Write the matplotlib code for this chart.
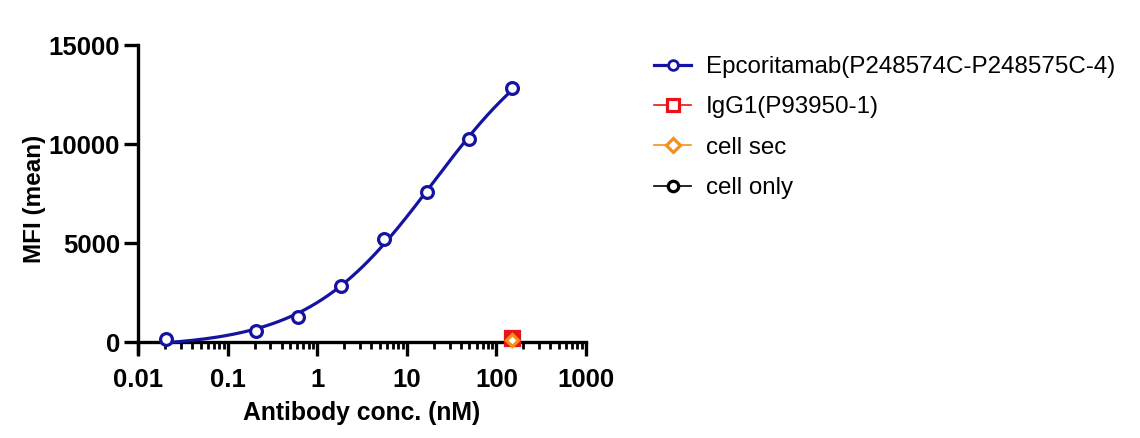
import numpy as np
import matplotlib
matplotlib.use("Agg")
import matplotlib.pyplot as plt
from matplotlib.ticker import LogLocator, NullFormatter, FixedLocator

plt.rcParams['font.family'] = ['Liberation Sans', 'DejaVu Sans']

# ---- data ----
epc_conc = [0.0206, 0.206, 0.617, 1.85, 5.56, 16.7, 50.0, 150.0]
epc_mfi = [150, 570, 1250, 2840, 5220, 7590, 10230, 12820]
igg_conc = [150.0]
igg_mfi = [200]
sec_conc = [150.0]
sec_mfi = [110]
only_conc = [150.0]
only_mfi = [60]

series_names = ["Epcoritamab(P248574C-P248575C-4)", "IgG1(P93950-1)", "cell sec", "cell only"]
x_ticks = [0.01, 0.1, 1, 10, 100, 1000]
x_tick_labels = ["0.01", "0.1", "1", "10", "100", "1000"]
y_ticks = [0, 5000, 10000, 15000]
y_tick_labels = ["0", "5000", "10000", "15000"]

# ---- 4PL fit (least squares: grid over logEC50 / hill, linear for bottom/top) ----
lx = np.log10(np.array(epc_conc))
yv = np.array(epc_mfi, dtype=float)
best = None
for le in np.linspace(-1, 4, 501):
    for h in np.linspace(0.3, 2.0, 171):
        f = 1.0 / (1.0 + 10 ** ((le - lx) * h))
        A = np.vstack([1 - f, f]).T
        coef, *_ = np.linalg.lstsq(A, yv, rcond=None)
        r = np.sum((A @ coef - yv) ** 2)
        if best is None or r < best[0]:
            best = (r, le, h, coef)
_, le, h, (bot, top) = best
xs = np.logspace(np.log10(min(epc_conc)), np.log10(max(epc_conc)), 300)
fs = 1.0 / (1.0 + 10 ** ((le - np.log10(xs)) * h))
ys = bot + (top - bot) * fs

# ---- figure ----
fig = plt.figure(figsize=(11.4, 4.38), dpi=100)
ax = fig.add_axes([138 / 1140, 1 - 353 / 438, (586 - 138) / 1140, (353 - 45) / 438])

blue = "#1414A0"
red = "#E8141A"
orange = "#F5901E"
black = "#000000"
ms = 8.5
mew = 2.3

ax.plot(xs, ys, color=blue, lw=2.3, zorder=3)
ax.plot(epc_conc, epc_mfi, ls="none", marker="o", ms=ms, mfc="white", mec=blue, mew=mew, zorder=4)
ax.plot(igg_conc, igg_mfi, ls="none", marker="s", ms=ms + 1, mfc=red, mec=red, mew=mew, zorder=5)
ax.plot(sec_conc, sec_mfi, ls="none", marker="D", ms=ms - 2.5, mfc="white", mec=orange, mew=mew, zorder=6)
ax.plot(only_conc, only_mfi, ls="none", marker="o", ms=ms - 3, mfc="none", mec=black, mew=1.5, zorder=4)

# legend handles
h1, = ax.plot([], [], color=blue, lw=2.3, marker="o", ms=7, mfc="white", mec=blue, mew=2)
h2, = ax.plot([], [], color=red, lw=1.2, marker="s", ms=8, mfc="white", mec=red, mew=2.3)
h3, = ax.plot([], [], color=orange, lw=1.2, marker="D", ms=7, mfc="white", mec=orange, mew=2.3)
h4, = ax.plot([], [], color=black, lw=1.2, marker="o", ms=7.5, mfc="white", mec=black, mew=2.3)
leg = fig.legend([h1, h2, h3, h4], series_names, loc="upper left",
                 bbox_to_anchor=(654 / 1140, 1 - 56 / 438), frameon=False,
                 fontsize=17.4, handlelength=1.55, handletextpad=0.6, labelspacing=0.76,
                 borderaxespad=0, borderpad=0)

ax.set_xscale("log")
ax.set_xlim(0.01, 1000)
ax.set_ylim(-550, 15000)
ax.spines["bottom"].set_position(("data", 0))
ax.spines["top"].set_visible(False)
ax.spines["right"].set_visible(False)
for s in ("left", "bottom"):
    ax.spines[s].set_linewidth(2.4)

ax.xaxis.set_major_locator(FixedLocator(x_ticks))
ax.set_xticklabels(x_tick_labels)
ax.xaxis.set_minor_locator(LogLocator(base=10, subs=np.arange(2, 10), numticks=20))
ax.xaxis.set_minor_formatter(NullFormatter())
ax.set_yticks(y_ticks)
ax.set_yticklabels(y_tick_labels)

ax.tick_params(axis="both", which="major", direction="out", length=10, width=2.4,
               labelsize=18.5, pad=3)
ax.tick_params(axis="x", which="major", pad=9)
ax.tick_params(axis="x", which="minor", direction="out", length=5, width=2.0)
for lab in ax.get_xticklabels() + ax.get_yticklabels():
    lab.set_fontweight("bold")

ax.set_xlabel("Antibody conc. (nM)", fontsize=17.8, fontweight="bold", labelpad=6)
ax.set_ylabel("MFI (mean)", fontsize=17.5, fontweight="bold", labelpad=2)

fig.savefig("out.png", dpi=100)
